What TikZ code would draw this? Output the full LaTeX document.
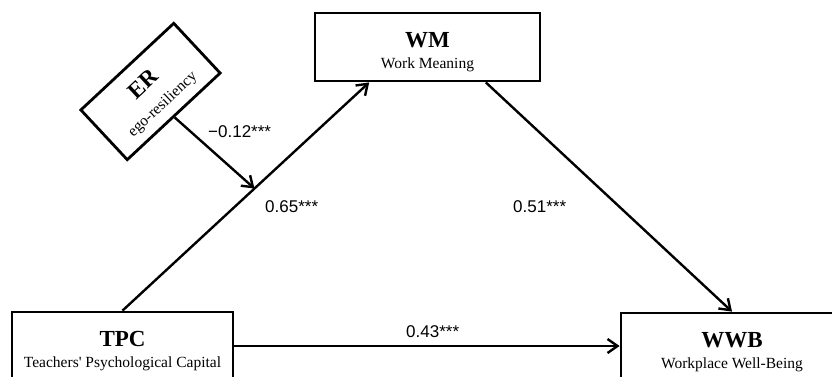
\documentclass[tikz,border=0pt]{standalone}
\usepackage{fontspec}
\setmainfont{Liberation Serif}
\newfontfamily\numfont{Liberation Sans}
\usetikzlibrary{arrows.meta,calc}
\tikzset{
  varbox/.style={draw, line width=2.8pt, minimum height=68pt, inner sep=0pt, align=center,
    font=\fontsize{15.5}{21}\selectfont},
  conn/.style={line width=2.4pt, -{Straight Barb[length=10pt,width=14pt]}},
  coef/.style={font=\numfont\fontsize{17}{17}\selectfont, anchor=base west, inner sep=0pt},
}
\newcommand{\vtitle}[1]{{\rule{0pt}{25pt}\fontsize{23}{21}\selectfont\bfseries #1}}
\begin{document}
\begin{tikzpicture}[x=1pt,y=-1pt]
\useasboundingbox (0,0) rectangle (832,376);
\clip (0,0) rectangle (832,376);
\node[varbox, minimum width=221pt] (tpc) at (122.5,346) {\vtitle{TPC}\\Teachers\textquotesingle{} Psychological Capital};
\node[varbox, minimum width=225pt] (wm) at (427.5,47) {\vtitle{WM}\\Work Meaning};
\node[varbox, minimum width=222pt] (wwb) at (732,347) {\vtitle{WWB}\\Workplace Well-Being};
\node[varbox, minimum width=127pt, rotate=43, font=\fontsize{15.5}{25}\selectfont] (er) at (150.5,91.5) {{\rule{0pt}{22pt}\fontsize{23}{25}\selectfont\bfseries ER}\\ego-resiliency};
\coordinate (wmin) at ($(wm.south west)!0.244!(wm.south east)$);
\coordinate (wmout) at ($(wm.south west)!0.756!(wm.south east)$);
\draw[conn] (tpc.north) -- (wmin);
\coordinate (mod) at ($(tpc.north)!0.535!(wmin)$);
\draw[conn] (er.south) -- (mod);
\draw[conn] (wmout) -- (wwb.north);
\draw[conn] (tpc.east) -- (tpc.east -| wwb.west);
\node[coef] (c1) at (208,137) {−0.12***};
\node[coef] (c2) at (265,212) {0.65***};
\node[coef] (c3) at (513,212) {0.51***};
\node[coef] (c4) at (406,337) {0.43***};
\end{tikzpicture}
\end{document}
